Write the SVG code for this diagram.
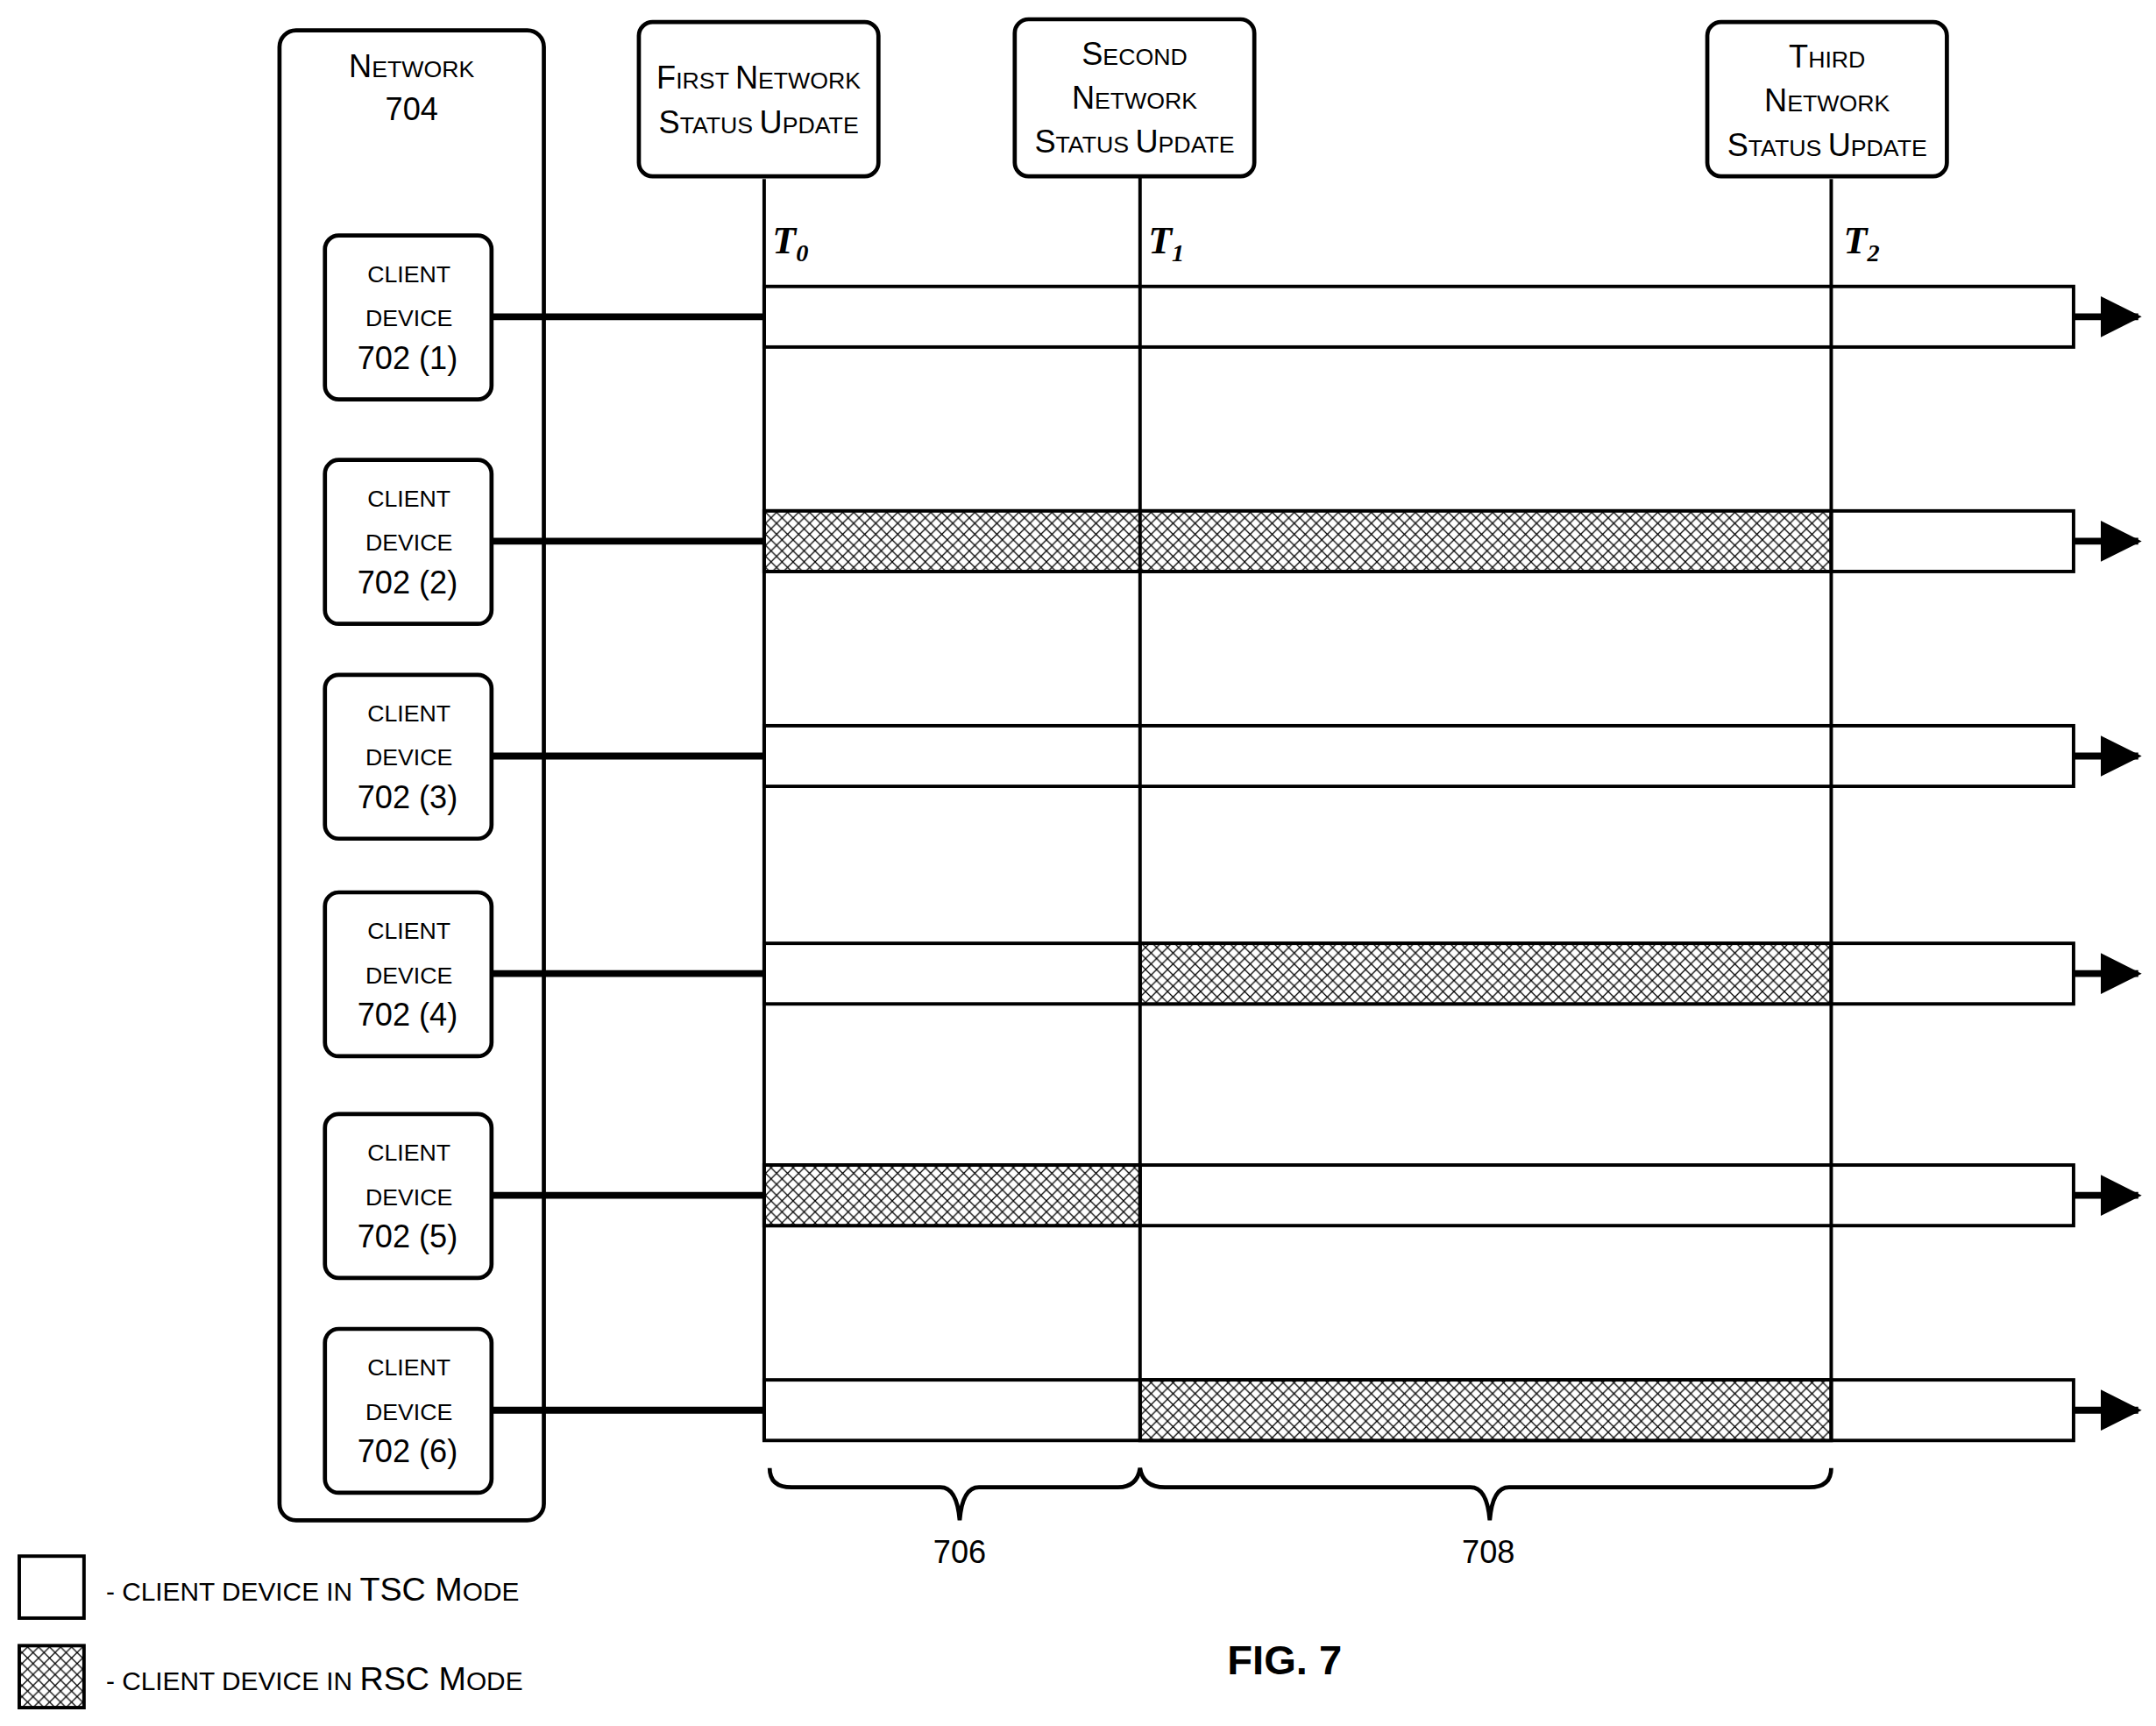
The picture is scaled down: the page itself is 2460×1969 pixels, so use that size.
<svg xmlns="http://www.w3.org/2000/svg" width="2460" height="1969" viewBox="0 0 2460 1969">
<defs>
<style>
.b{fill:#fff;stroke:#000;stroke-width:3}
.t{font-family:"Liberation Sans",Arial,sans-serif;fill:#000;text-anchor:middle}
.s{font-size:17px}.L{font-size:23px}
.bar{fill:#fff;stroke:#000;stroke-width:2.5}
.h{fill:url(#hatch);stroke:#000;stroke-width:2.5}
.c{stroke:#000;stroke-width:5}
.v{stroke:#000;stroke-width:2.5}
.br{fill:none;stroke:#000;stroke-width:3}
</style>
<pattern id="hatch" width="8" height="8" patternUnits="userSpaceOnUse">
<rect width="8" height="8" fill="#fff"/>
<path d="M0,0L8,8M8,0L0,8" stroke="#000" stroke-width="0.8"/>
</pattern>
<marker id="ah" markerWidth="6" markerHeight="6" refX="5.5" refY="3" orient="auto" markerUnits="strokeWidth"><path d="M0,0L6,3L0,6z" fill="#000"/></marker>
</defs>
<g transform="scale(1.571)">
<g id="network"><rect class="b" x="203" y="22" width="192" height="1082" rx="12"/>
<text class="t" x="299" y="56"><tspan class="L">N</tspan><tspan class="s">ETWORK</tspan></text>
<text class="t L" x="299" y="87">704</text></g>
<g id="upd1"><rect class="b" x="464" y="16" width="174" height="112" rx="10"/>
<text class="t" x="551" y="64"><tspan class="L">F</tspan><tspan class="s">IRST </tspan><tspan class="L">N</tspan><tspan class="s">ETWORK</tspan></text>
<text class="t" x="551" y="97"><tspan class="L">S</tspan><tspan class="s">TATUS </tspan><tspan class="L">U</tspan><tspan class="s">PDATE</tspan></text></g>
<g id="upd2"><rect class="b" x="737" y="14" width="174" height="114" rx="10"/>
<text class="t" x="824" y="47"><tspan class="L">S</tspan><tspan class="s">ECOND</tspan></text>
<text class="t" x="824" y="79"><tspan class="L">N</tspan><tspan class="s">ETWORK</tspan></text>
<text class="t" x="824" y="111"><tspan class="L">S</tspan><tspan class="s">TATUS </tspan><tspan class="L">U</tspan><tspan class="s">PDATE</tspan></text></g>
<g id="upd3"><rect class="b" x="1240" y="16" width="174" height="112" rx="10"/>
<text class="t" x="1327" y="49"><tspan class="L">T</tspan><tspan class="s">HIRD</tspan></text>
<text class="t" x="1327" y="81"><tspan class="L">N</tspan><tspan class="s">ETWORK</tspan></text>
<text class="t" x="1327" y="113"><tspan class="L">S</tspan><tspan class="s">TATUS </tspan><tspan class="L">U</tspan><tspan class="s">PDATE</tspan></text></g>
<g font-family="Liberation Serif,serif" font-weight="bold" font-style="italic" font-size="28">
<text x="561" y="184">T<tspan font-size="18" dy="6">0</tspan></text>
<text x="834" y="184">T<tspan font-size="18" dy="6">1</tspan></text>
<text x="1339" y="184">T<tspan font-size="18" dy="6">2</tspan></text></g>
<g id="connectors">
<path class="c" d="M357,230H555M357,393H555M357,549H555M357,707H555M357,868H555M357,1024H555"/>
<path class="c" marker-end="url(#ah)" d="M1506,230H1553"/>
<path class="c" marker-end="url(#ah)" d="M1506,393H1553"/>
<path class="c" marker-end="url(#ah)" d="M1506,549H1553"/>
<path class="c" marker-end="url(#ah)" d="M1506,707H1553"/>
<path class="c" marker-end="url(#ah)" d="M1506,868H1553"/>
<path class="c" marker-end="url(#ah)" d="M1506,1024H1553"/>
</g>
<g id="bars">
<rect class="bar" x="555" y="208" width="951" height="44"/>
<rect class="bar" x="555" y="371" width="951" height="44"/><rect class="h" x="555" y="371" width="775" height="44"/>
<rect class="bar" x="555" y="527" width="951" height="44"/>
<rect class="bar" x="555" y="685" width="951" height="44"/><rect class="h" x="828" y="685" width="502" height="44"/>
<rect class="bar" x="555" y="846" width="951" height="44"/><rect class="h" x="555" y="846" width="273" height="44"/>
<rect class="bar" x="555" y="1002" width="951" height="44"/><rect class="h" x="828" y="1002" width="502" height="44"/>
</g>
<path class="v" d="M555,130V1046M828,128V1046M1330,130V1046"/>
<g id="clients">
<g id="c1"><rect class="b" x="236" y="171" width="121" height="119" rx="10"/><text class="t s" x="297" y="205">CLIENT</text><text class="t s" x="297" y="237">DEVICE</text><text class="t L" x="296" y="268">702 (1)</text></g>
<g id="c2"><rect class="b" x="236" y="334" width="121" height="119" rx="10"/><text class="t s" x="297" y="368">CLIENT</text><text class="t s" x="297" y="400">DEVICE</text><text class="t L" x="296" y="431">702 (2)</text></g>
<g id="c3"><rect class="b" x="236" y="490" width="121" height="119" rx="10"/><text class="t s" x="297" y="524">CLIENT</text><text class="t s" x="297" y="556">DEVICE</text><text class="t L" x="296" y="587">702 (3)</text></g>
<g id="c4"><rect class="b" x="236" y="648" width="121" height="119" rx="10"/><text class="t s" x="297" y="682">CLIENT</text><text class="t s" x="297" y="714">DEVICE</text><text class="t L" x="296" y="745">702 (4)</text></g>
<g id="c5"><rect class="b" x="236" y="809" width="121" height="119" rx="10"/><text class="t s" x="297" y="843">CLIENT</text><text class="t s" x="297" y="875">DEVICE</text><text class="t L" x="296" y="906">702 (5)</text></g>
<g id="c6"><rect class="b" x="236" y="965" width="121" height="119" rx="10"/><text class="t s" x="297" y="999">CLIENT</text><text class="t s" x="297" y="1031">DEVICE</text><text class="t L" x="296" y="1062">702 (6)</text></g>
</g>
<g id="braces">
<path class="br" d="M559,1066Q559,1080 575,1080H683Q695,1080 697,1104Q699,1080 711,1080H812Q826,1080 828,1066Q830,1080 846,1080H1068Q1080,1080 1082,1104Q1084,1080 1096,1080H1314Q1330,1080 1330,1066"/>
<text class="t L" x="697" y="1135">706</text><text class="t L" x="1081" y="1135">708</text>
</g>
<g id="legend">
<rect class="bar" x="14" y="1130" width="47" height="45"/>
<rect class="h" x="14" y="1195" width="47" height="45"/>
<text x="77" y="1162" font-family="Liberation Sans,sans-serif"><tspan font-size="19">- CLIENT DEVICE IN </tspan><tspan font-size="24">TSC M</tspan><tspan font-size="19">ODE</tspan></text>
<text x="77" y="1227" font-family="Liberation Sans,sans-serif"><tspan font-size="19">- CLIENT DEVICE IN </tspan><tspan font-size="24">RSC M</tspan><tspan font-size="19">ODE</tspan></text>
</g>
<text class="t" x="933" y="1216" font-size="30" font-weight="bold">FIG. 7</text>
</g>
</svg>
